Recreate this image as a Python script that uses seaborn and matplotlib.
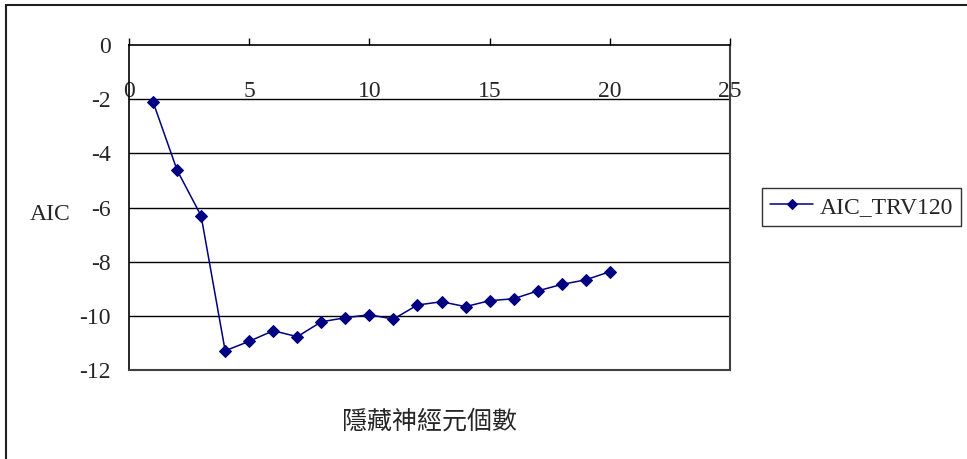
import numpy as np
import pandas as pd
import matplotlib
matplotlib.use("Agg")
import matplotlib.pyplot as plt
import seaborn as sns
from matplotlib.patches import Rectangle

# --- data ---
hidden_neurons = [1, 2, 3, 4, 5, 6, 7, 8, 9, 10, 11, 12, 13, 14, 15, 16, 17, 18, 19, 20]
aic_trv120 = [-2.10, -4.62, -6.31, -11.29, -10.94, -10.55, -10.77, -10.22, -10.07, -9.96,
              -10.12, -9.60, -9.48, -9.66, -9.44, -9.37, -9.08, -8.84, -8.67, -8.37]
x_ticks = [0, 5, 10, 15, 20, 25]
y_ticks = [0, -2, -4, -6, -8, -10, -12]
series_name = "AIC_TRV120"
x_label = "隱藏神經元個數"
y_label = "AIC"

NAVY = "#000080"

sns.set_style("white")
plt.rcParams["font.family"] = ["Liberation Serif", "DejaVu Serif"]
plt.rcParams["axes.unicode_minus"] = False

df = pd.DataFrame({"n": hidden_neurons, "aic": aic_trv120})

fig = plt.figure(figsize=(9.67, 4.59), dpi=100)
W, H = 967, 459
ax = fig.add_axes([129 / W, 1 - 370 / H, (730 - 129) / W, (370 - 45) / H])

sns.lineplot(data=df, x="n", y="aic", ax=ax, color=NAVY, linewidth=1.1,
             marker="D", markersize=6.5, markeredgecolor=NAVY, label=series_name)

ax.set_xlim(0, 25)
ax.set_ylim(-12, 0)
ax.set_xticks(x_ticks)
ax.set_yticks(y_ticks)
ax.set_yticklabels([str(v) for v in y_ticks])

# gridlines at each major y step
for v in y_ticks[1:-1]:
    ax.axhline(v, color="black", linewidth=1, zorder=0)

# x axis sits at y=0 (top), ticks point up, labels hang below the axis line
ax.tick_params(axis="x", top=True, bottom=False, labeltop=True, labelbottom=False,
               direction="out", length=5, width=1, color="black",
               pad=-46, labelsize=17)
ax.tick_params(axis="y", left=False, length=0, pad=13, labelsize=17)

for side in ["left", "top"]:
    ax.spines[side].set_color("black")
    ax.spines[side].set_linewidth(1.2)
for side in ["bottom", "right"]:
    ax.spines[side].set_color("#404040")
    ax.spines[side].set_linewidth(1.5)

ax.set_ylabel(y_label, rotation=0, fontsize=17, ha="center", va="center")
ax.yaxis.set_label_coords(-0.131, 0.477)
ax.set_xlabel(x_label, fontsize=18, family=["Noto Sans CJK TC", "DejaVu Sans"])
ax.xaxis.set_label_coords(0.5, -0.16)
ax.xaxis.label.set_va("center")

leg = ax.legend(loc="center left", bbox_to_anchor=(762 / W, 1 - 207 / H),
                bbox_transform=fig.transFigure, fontsize=17, frameon=True,
                fancybox=False, handlelength=1.8, borderpad=0.35, handletextpad=0.3,
                borderaxespad=0)
leg.get_frame().set_edgecolor("black")
leg.get_frame().set_linewidth(1)
for line in leg.get_lines():
    line.set_markersize(5)

# outer chart border
fig.patches.append(Rectangle((6 / W, -0.2), 1.2, 1.2 - 5 / H,
                             transform=fig.transFigure, fill=False,
                             edgecolor="#202020", linewidth=1.5))

fig.savefig("out.png", dpi=100)
